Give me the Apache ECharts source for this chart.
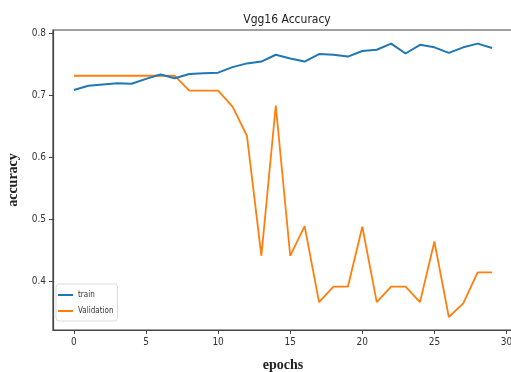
<!DOCTYPE html>
<html><head><meta charset="utf-8">
<script src="https://cdn.jsdelivr.net/npm/echarts@6/dist/echarts.min.js"></script>
<style>html,body{margin:0;padding:0;background:#fff}#c{width:511px;height:372px}</style>
</head><body><div id="c"></div>
<script>
const epochs = [0,1,2,3,4,5,6,7,8,9,10,11,12,13,14,15,16,17,18,19,20,21,22,23,24,25,26,27,28,29];
const train = [0.709,0.716,0.718,0.720,0.719,0.727,0.734,0.728,0.735,0.736,0.737,0.746,0.752,0.755,0.766,0.760,0.755,0.767,0.766,0.763,0.772,0.774,0.784,0.768,0.782,0.778,0.769,0.778,0.784,0.777];
const validation = [0.732,0.732,0.732,0.732,0.732,0.732,0.732,0.732,0.708,0.708,0.708,0.682,0.635,0.441,0.684,0.441,0.489,0.366,0.391,0.391,0.488,0.366,0.391,0.391,0.366,0.464,0.342,0.364,0.414,0.414];
const xTicks = [0,5,10,15,20,25,30];
const yTicks = [0.4,0.5,0.6,0.7,0.8];

const chart = echarts.init(document.getElementById('c'), null, {renderer:'canvas'});
const tickFont = 'DejaVu Sans Condensed, Liberation Sans Narrow, DejaVu Sans, sans-serif';
chart.setOption({
  animation:false,
  backgroundColor:'#fff',
  title:{text:'Vgg16 Accuracy', left:282, top:9, textAlign:'center',
    textStyle:{fontFamily:tickFont, fontSize:12, fontWeight:'normal', color:'#222'}},
  grid:{left:53, top:30, width:460, height:300, show:true, borderColor:'#444', borderWidth:1.2, backgroundColor:'#fff', outerBoundsMode:'none', containLabel:false},
  legend:{orient:'vertical', left:56, top:284, itemWidth:15, itemHeight:2, itemGap:8,
    padding:[7,4,6,2], borderColor:'#ddd', borderWidth:1, borderRadius:3, backgroundColor:'rgba(255,255,255,0.8)',
    textStyle:{fontFamily:tickFont, fontSize:8, color:'#333'},
    data:[{name:'train', icon:'rect'},{name:'Validation', icon:'rect'}]},
  xAxis:{type:'value', min:-1.45, max:30.45, name:'epochs', nameLocation:'middle', nameGap:28,
    nameTextStyle:{fontFamily:'Liberation Serif, DejaVu Serif, serif', fontSize:14, fontWeight:'bold', color:'#222'},
    axisLine:{show:true, onZero:false, lineStyle:{color:'#444', width:1.2}},
    axisTick:{show:true, customValues:xTicks, length:4, lineStyle:{color:'#444'}},
    axisLabel:{customValues:xTicks, fontFamily:tickFont, fontSize:10, color:'#333', margin:7},
    splitLine:{show:false}},
  yAxis:{type:'value', min:0.321, max:0.806, name:'accuracy', nameLocation:'middle', nameGap:32, nameRotate:90,
    nameTextStyle:{fontFamily:'Liberation Serif, DejaVu Serif, serif', fontSize:14, fontWeight:'bold', color:'#222'},
    axisLine:{show:true, onZero:false, lineStyle:{color:'#444', width:1.2}},
    axisTick:{show:true, customValues:yTicks, length:4, lineStyle:{color:'#444'}},
    axisLabel:{customValues:yTicks, fontFamily:tickFont, fontSize:10, color:'#333', margin:7,
      formatter:v=>v.toFixed(1)},
    splitLine:{show:false}},
  series:[
    {name:'train', type:'line', data:epochs.map((e,i)=>[e,train[i]]), showSymbol:false, symbol:'none',
      lineStyle:{color:'#1f77b4', width:2}, itemStyle:{color:'#1f77b4'}, z:3},
    {name:'Validation', type:'line', data:epochs.map((e,i)=>[e,validation[i]]), showSymbol:false, symbol:'none',
      lineStyle:{color:'#ff7f0e', width:1.8}, itemStyle:{color:'#ff7f0e'}, z:2}
  ]
});
</script></body></html>
